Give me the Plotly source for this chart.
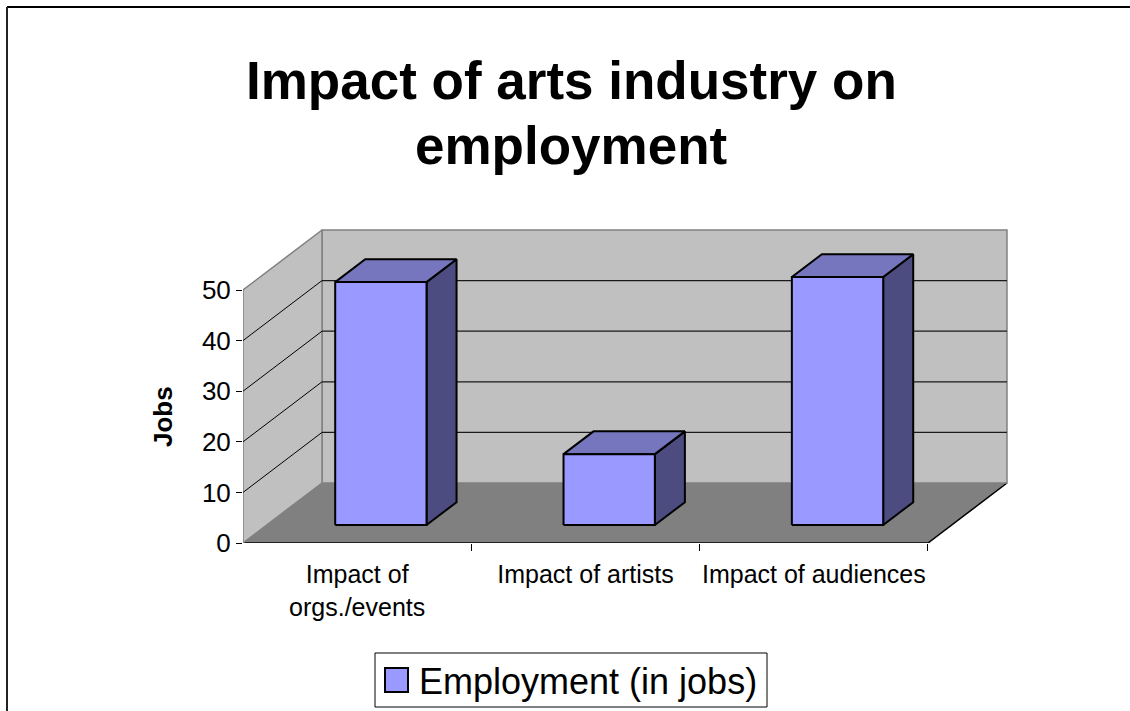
import plotly.graph_objects as go

# ---- data ----
categories = ["Impact of<br>orgs./events", "Impact of artists", "Impact of audiences"]
employment_jobs = [48, 14, 49]
y_ticks = [0, 10, 20, 30, 40, 50]
series_name = "Employment (in jobs)"
chart_title = ["Impact of arts industry on", "employment"]
y_title = "Jobs"

# ---- oblique 3-D projection settings (data units) ----
WALL_TOP = 50                  # height of the back / side walls
DX, DY = 0.346, 11.86          # offset of the back plane (x in categories, y in value units)
BAR_LEFT, BAR_RIGHT = 0.30, 0.70   # bar extent inside its category slot
D_FRONT, D_BACK = 0.30, 0.68       # bar depth span (0 = front, 1 = back wall)

FONT = "Arial, Liberation Sans, sans-serif"
FRONT_C, TOP_C, SIDE_C = "#9999FF", "#7676BF", "#4C4C80"

# plot-area geometry in pixels
L, R, T, B = 243, 113, 225, 168
FIG_W, FIG_H = 1130, 711
PLOT_W, PLOT_H = FIG_W - L - R, FIG_H - T - B
PX_PER_CAT, PX_PER_UNIT = 228.33, 5.06
X_RANGE = [0, PLOT_W / PX_PER_CAT]
Y_RANGE = [0, PLOT_H / PX_PER_UNIT]


def px_x(px):
    return (px - L) / PLOT_W


def px_y(py):
    return (FIG_H - B - py) / PLOT_H


def proj(x, v, d):
    """Project category position x, value v and depth d onto the 2-D plane."""
    return x + d * DX, v + d * DY


def poly(points, fill, line_color, width=1.0):
    xs = [p[0] for p in points] + [points[0][0]]
    ys = [p[1] for p in points] + [points[0][1]]
    return go.Scatter(x=xs, y=ys, mode="lines", fill="toself", fillcolor=fill,
                      line=dict(color=line_color, width=width),
                      hoverinfo="skip", showlegend=False)


def seg(p, q, color, width=1.0):
    return go.Scatter(x=[p[0], q[0]], y=[p[1], q[1]], mode="lines",
                      line=dict(color=color, width=width),
                      hoverinfo="skip", showlegend=False)


n = len(categories)
fig = go.Figure()

# floor
fig.add_trace(poly([proj(0, 0, 0), proj(n, 0, 0), proj(n, 0, 1), proj(0, 0, 1)],
                   "#808080", "#808080"))
fig.add_trace(seg(proj(0, 0, 0), proj(n, 0, 0), "#000000", 1.5))
fig.add_trace(seg(proj(n, 0, 0), proj(n, 0, 1), "#000000", 1.5))

# back wall and left wall
fig.add_trace(poly([proj(0, 0, 1), proj(n, 0, 1), proj(n, WALL_TOP, 1), proj(0, WALL_TOP, 1)],
                   "#C0C0C0", "#808080", 1.5))
fig.add_trace(poly([proj(0, 0, 0), proj(0, 0, 1), proj(0, WALL_TOP, 1), proj(0, WALL_TOP, 0)],
                   "#C0C0C0", "#808080", 1.5))

# gridlines on both walls
for v in y_ticks[1:-1]:
    fig.add_trace(seg(proj(0, v, 0), proj(0, v, 1), "#000000", 1))
    fig.add_trace(seg(proj(0, v, 1), proj(n, v, 1), "#1a1a1a", 1.3))

# bars as front / top / side faces
for i, val in enumerate(employment_jobs):
    x0, x1 = i + BAR_LEFT, i + BAR_RIGHT
    front = [proj(x0, 0, D_FRONT), proj(x1, 0, D_FRONT), proj(x1, val, D_FRONT), proj(x0, val, D_FRONT)]
    top = [proj(x0, val, D_FRONT), proj(x1, val, D_FRONT), proj(x1, val, D_BACK), proj(x0, val, D_BACK)]
    side = [proj(x1, 0, D_FRONT), proj(x1, 0, D_BACK), proj(x1, val, D_BACK), proj(x1, val, D_FRONT)]
    fig.add_trace(poly(side, SIDE_C, "#000000", 2))
    fig.add_trace(poly(top, TOP_C, "#000000", 2))
    fig.add_trace(poly(front, FRONT_C, "#000000", 2))

fig.update_layout(
    width=FIG_W, height=FIG_H,
    margin=dict(l=L, r=R, t=T, b=B, autoexpand=False),
    paper_bgcolor="white", plot_bgcolor="rgba(0,0,0,0)",
    showlegend=False,
    font=dict(family=FONT, color="black"),
    xaxis=dict(range=X_RANGE, tickmode="array",
               tickvals=[i + 0.5 for i in range(n)], ticktext=categories,
               ticks="", showgrid=False, zeroline=False, showline=False,
               tickfont=dict(size=25, family=FONT, color="black"),
               ticklabelstandoff=14, automargin=False, fixedrange=True,
               minor=dict(tickmode="array", tickvals=list(range(1, n + 1)),
                          ticks="outside", ticklen=7, tickcolor="black",
                          tickwidth=1.3, showgrid=False)),
    yaxis=dict(range=Y_RANGE, tickmode="array", tickvals=y_ticks,
               ticktext=[str(t) for t in y_ticks],
               ticks="outside", ticklen=6, tickcolor="black", tickwidth=1.3,
               showgrid=False, zeroline=False, showline=False,
               tickfont=dict(size=26, family=FONT, color="black"),
               automargin=False, fixedrange=True),
)

# title lines
for text, py in zip(chart_title, [80, 145]):
    fig.add_annotation(x=px_x(571), y=px_y(py), xref="paper", yref="paper",
                       text=f"<b>{text}</b>", showarrow=False,
                       xanchor="center", yanchor="middle",
                       font=dict(size=53, family=FONT, color="black"))

# y-axis title
fig.add_annotation(x=px_x(163), y=px_y(417), xref="paper", yref="paper",
                   text=f"<b>{y_title}</b>", showarrow=False, textangle=-90,
                   xanchor="center", yanchor="middle",
                   font=dict(size=26, family=FONT, color="black"))

# legend box
fig.add_shape(type="rect", xref="paper", yref="paper",
              x0=px_x(375), x1=px_x(767), y0=px_y(707), y1=px_y(653),
              line=dict(color="#000000", width=1), fillcolor="white")
fig.add_shape(type="rect", xref="paper", yref="paper",
              x0=px_x(385), x1=px_x(408), y0=px_y(692), y1=px_y(668),
              line=dict(color="#000000", width=2), fillcolor=FRONT_C)
fig.add_annotation(x=px_x(417), y=px_y(681), xref="paper", yref="paper",
                   text=series_name, showarrow=False,
                   xanchor="left", yanchor="middle",
                   font=dict(size=36, family=FONT, color="black"))

# chart frame (top and left edges)
fig.add_shape(type="line", xref="paper", yref="paper",
              x0=px_x(7), x1=px_x(1132), y0=px_y(7), y1=px_y(7),
              line=dict(color="#000000", width=2))
fig.add_shape(type="line", xref="paper", yref="paper",
              x0=px_x(7), x1=px_x(7), y0=px_y(7), y1=px_y(713),
              line=dict(color="#222222", width=2))

fig.write_html("out.html", config={"displayModeBar": False})
